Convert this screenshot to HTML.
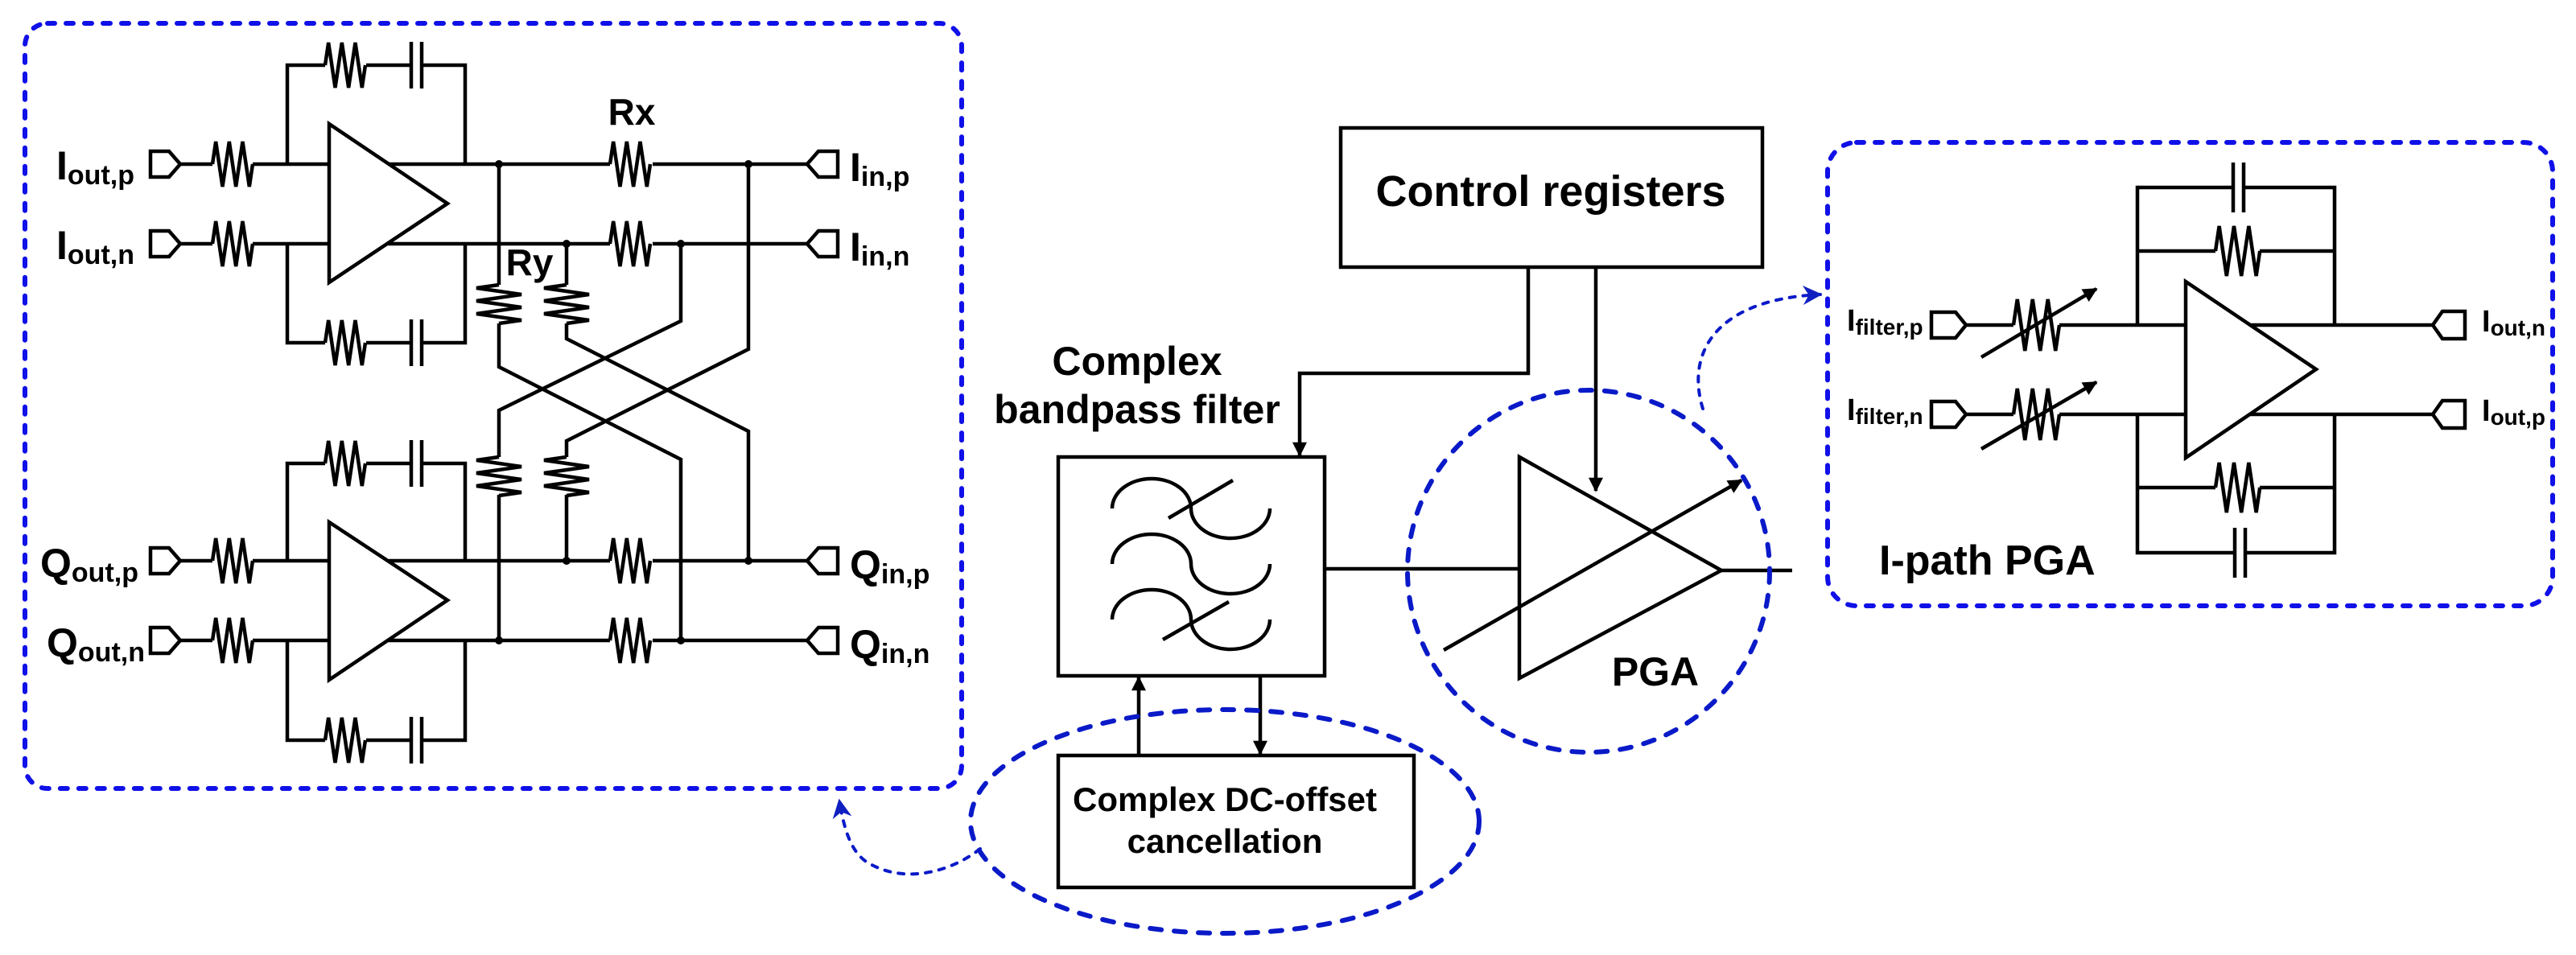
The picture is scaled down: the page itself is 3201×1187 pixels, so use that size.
<!DOCTYPE html>
<html><head><meta charset="utf-8"><style>
html,body{margin:0;padding:0;background:#fff}
svg{display:block}
text{font-family:"Liberation Sans",Arial,sans-serif;font-weight:bold;fill:#000}
</style></head><body>
<svg width="3201" height="1187" viewBox="0 0 3201 1187" xmlns="http://www.w3.org/2000/svg">
<defs>
<path id="rh" d="M0,0 l4.17,-28 l8.33,56 l8.33,-56 l8.33,56 l8.33,-56 l8.33,56 l4.17,-28" fill="none" stroke="#000" stroke-width="4.5" stroke-linejoin="miter"/>
<path id="rv" d="M0,0 l-28,4 l56,8 l-56,8 l56,8 l-56,8 l56,8 l-28,4" fill="none" stroke="#000" stroke-width="4.5"/>
<path id="rh2" d="M0,0 l4.6,-31 l9.2,62 l9.2,-62 l9.2,62 l9.2,-62 l9.2,62 l4.6,-31" fill="none" stroke="#000" stroke-width="4.5"/>
<path id="rvar" d="M0,0 l4.75,-32 l9.5,64 l9.5,-64 l9.5,64 l9.5,-64 l9.5,64 l4.75,-32" fill="none" stroke="#000" stroke-width="4.5"/>
<marker id="ahb" viewBox="0 0 10 10" refX="9" refY="5" markerWidth="24" markerHeight="24" orient="auto" markerUnits="userSpaceOnUse">
<path d="M0,0 L10,5 L0,10 L3,5 z" fill="#1020c0"/></marker>
<marker id="ahk" viewBox="0 0 10 10" refX="9" refY="5" markerWidth="22" markerHeight="18" orient="auto" markerUnits="userSpaceOnUse">
<path d="M0,0 L10,5 L0,10 z" fill="#000"/></marker>
</defs>

<g fill="none" stroke="#000" stroke-width="4.5">
<polygon points="187,188 210,188 224,204 210,220 187,220"/>
<line x1="224" y1="204" x2="264" y2="204"/>
<line x1="314" y1="204" x2="409" y2="204"/>
<polyline points="357,204 357,81 404,81"/>
<polyline points="455,81 511,81"/>
<line x1="511" y1="52" x2="511" y2="110"/><line x1="524" y1="52" x2="524" y2="110"/>
<polyline points="524,81 578,81 578,204"/>
<polygon points="409,154 556,253 409,351"/>
<line x1="483" y1="204" x2="758" y2="204"/>
<line x1="811" y1="204" x2="1003" y2="204"/>
<polygon points="1041,188 1017,188 1003,204 1017,220 1041,220"/>
<polygon points="187,287 210,287 224,303 210,319 187,319"/>
<line x1="224" y1="303" x2="264" y2="303"/>
<line x1="314" y1="303" x2="409" y2="303"/>
<polyline points="357,303 357,426 404,426"/>
<polyline points="455,426 511,426"/>
<line x1="511" y1="397" x2="511" y2="455"/><line x1="524" y1="397" x2="524" y2="455"/>
<polyline points="524,426 578,426 578,303"/>
<line x1="481" y1="303" x2="758" y2="303"/>
<line x1="811" y1="303" x2="1003" y2="303"/>
<polygon points="1041,287 1017,287 1003,303 1017,319 1041,319"/>

<polygon points="187,681 210,681 224,697 210,713 187,713"/>
<line x1="224" y1="697" x2="264" y2="697"/>
<line x1="314" y1="697" x2="409" y2="697"/>
<polyline points="357,697 357,576 404,576"/>
<polyline points="455,576 511,576"/>
<line x1="511" y1="547" x2="511" y2="605"/><line x1="524" y1="547" x2="524" y2="605"/>
<polyline points="524,576 578,576 578,697"/>
<polygon points="409,649 556,746 409,845"/>
<line x1="483" y1="697" x2="758" y2="697"/>
<line x1="811" y1="697" x2="1003" y2="697"/>
<polygon points="1041,681 1017,681 1003,697 1017,713 1041,713"/>
<polygon points="187,780 210,780 224,796 210,812 187,812"/>
<line x1="224" y1="796" x2="264" y2="796"/>
<line x1="314" y1="796" x2="409" y2="796"/>
<polyline points="357,796 357,920 404,920"/>
<polyline points="455,920 511,920"/>
<line x1="511" y1="891" x2="511" y2="949"/><line x1="524" y1="891" x2="524" y2="949"/>
<polyline points="524,920 578,920 578,796"/>
<line x1="481" y1="796" x2="758" y2="796"/>
<line x1="811" y1="796" x2="1003" y2="796"/>
<polygon points="1041,780 1017,780 1003,796 1017,812 1041,812"/>

<polyline points="620,204 620,354"/>
<polyline points="620,402 620,456 846,571 846,796"/>
<polyline points="704,303 704,354"/>
<polyline points="704,402 704,421 930,536 930,697"/>
<polyline points="930,204 930,434 704,548 704,568"/>
<polyline points="704,615 704,697"/>
<polyline points="846,303 846,399 620,510 620,568"/>
<polyline points="620,615 620,796"/>

<rect x="1666" y="159" width="524" height="173"/>
<polyline points="1899,332 1899,464 1615,464 1615,566" marker-end="url(#ahk)"/>
<line x1="1983" y1="332" x2="1983" y2="610" marker-end="url(#ahk)"/>
<rect x="1315" y="568" width="331" height="272"/>
<path d="M1382,632 A49,37 0 0 1 1480,632 A49,37 0 0 0 1578,632"/>
<path d="M1382,701 A49,37 0 0 1 1480,701 A49,37 0 0 0 1578,701"/>
<path d="M1382,770 A49,37 0 0 1 1480,770 A49,37 0 0 0 1578,770"/>
<line x1="1452" y1="644" x2="1532" y2="597"/>
<line x1="1445" y1="795" x2="1527" y2="748"/>
<line x1="1646" y1="707" x2="1888" y2="707"/>
<polygon points="1888,568 2139,709 1888,843"/>
<line x1="2139" y1="709" x2="2227" y2="709"/>
<line x1="1794" y1="808" x2="2164" y2="597" marker-end="url(#ahk)"/>
<line x1="1415" y1="939" x2="1415" y2="842" marker-end="url(#ahk)"/>
<line x1="1566" y1="840" x2="1566" y2="937" marker-end="url(#ahk)"/>
<rect x="1315" y="939" width="442" height="164"/>

<polyline points="2656,404 2656,233 2775,233"/>
<line x1="2775" y1="202" x2="2775" y2="264"/><line x1="2788" y1="202" x2="2788" y2="264"/>
<polyline points="2788,233 2901,233 2901,404"/>
<line x1="2656" y1="312" x2="2753" y2="312"/>
<line x1="2808" y1="312" x2="2901" y2="312"/>
<polygon points="2716,350 2878,459 2716,569"/>
<polygon points="2400,388 2430,388 2443,404 2430,420 2400,420"/>
<line x1="2443" y1="404" x2="2502" y2="404"/>
<line x1="2559" y1="404" x2="2716" y2="404"/>
<line x1="2462" y1="444" x2="2605" y2="359" marker-end="url(#ahk)"/>
<polygon points="2400,499 2430,499 2443,515 2430,531 2400,531"/>
<line x1="2443" y1="515" x2="2502" y2="515"/>
<line x1="2559" y1="515" x2="2716" y2="515"/>
<line x1="2462" y1="558" x2="2605" y2="475" marker-end="url(#ahk)"/>
<line x1="2796" y1="404" x2="3023" y2="404"/>
<polygon points="3063,387 3035,387 3023,404 3035,421 3063,421"/>
<line x1="2796" y1="515" x2="3023" y2="515"/>
<polygon points="3063,498 3035,498 3023,515 3035,532 3063,532"/>
<polyline points="2656,515 2656,687 2777,687"/>
<line x1="2777" y1="656" x2="2777" y2="718"/><line x1="2790" y1="656" x2="2790" y2="718"/>
<polyline points="2790,687 2901,687 2901,515"/>
<line x1="2656" y1="606" x2="2753" y2="606"/>
<line x1="2808" y1="606" x2="2901" y2="606"/>
</g>

<use href="#rh" x="264" y="204"/><use href="#rh" x="264" y="303"/>
<use href="#rh" x="264" y="697"/><use href="#rh" x="264" y="796"/>
<use href="#rh" x="404" y="81"/><use href="#rh" x="404" y="426"/>
<use href="#rh" x="404" y="576"/><use href="#rh" x="404" y="920"/>
<use href="#rh" x="758" y="204"/><use href="#rh" x="758" y="303"/>
<use href="#rh" x="758" y="697"/><use href="#rh" x="758" y="796"/>
<use href="#rv" x="620" y="354"/><use href="#rv" x="704" y="354"/>
<use href="#rv" x="620" y="568"/><use href="#rv" x="704" y="568"/>
<use href="#rh2" x="2753" y="312"/><use href="#rh2" x="2753" y="606"/>
<use href="#rvar" x="2502" y="404"/><use href="#rvar" x="2502" y="515"/>

<g fill="#000">
<circle cx="620" cy="204" r="5"/><circle cx="930" cy="204" r="5"/>
<circle cx="704" cy="303" r="5"/><circle cx="846" cy="303" r="5"/>
<circle cx="704" cy="697" r="5"/><circle cx="930" cy="697" r="5"/>
<circle cx="620" cy="796" r="5"/><circle cx="846" cy="796" r="5"/>
</g>

<g fill="none" stroke="#1010e8" stroke-width="6" stroke-linecap="round" stroke-dasharray="9 14">
<rect x="31" y="29" width="1164" height="951" rx="28"/>
<rect x="2271" y="177" width="901" height="576" rx="36"/>
</g>
<g fill="none" stroke="#0a1ac8" stroke-width="6" stroke-linecap="round" stroke-dasharray="14 16">
<circle cx="1974" cy="710" r="225"/>
<ellipse cx="1522" cy="1021" rx="316" ry="139"/>
</g>
<g fill="none" stroke="#0a1ac8" stroke-width="4" stroke-linecap="round" stroke-dasharray="7 10">
<path d="M1218,1055 C1180,1085 1120,1100 1075,1070 C1055,1055 1048,1025 1043,995" marker-end="url(#ahb)"/>
<path d="M2116,508 C2095,440 2130,372 2262,366" marker-end="url(#ahb)"/>
</g>

<text x="70" y="223" font-size="50">I<tspan font-size="34" dy="6">out,p</tspan></text>
<text x="70" y="322" font-size="50">I<tspan font-size="34" dy="6">out,n</tspan></text>
<text x="50" y="717" font-size="50">Q<tspan font-size="34" dy="6">out,p</tspan></text>
<text x="58" y="816" font-size="50">Q<tspan font-size="34" dy="6">out,n</tspan></text>
<text x="1056" y="225" font-size="50">I<tspan font-size="34" dy="6">in,p</tspan></text>
<text x="1056" y="324" font-size="50">I<tspan font-size="34" dy="6">in,n</tspan></text>
<text x="1056" y="719" font-size="50">Q<tspan font-size="34" dy="6">in,p</tspan></text>
<text x="1056" y="818" font-size="50">Q<tspan font-size="34" dy="6">in,n</tspan></text>
<text x="785" y="155" font-size="46" text-anchor="middle">Rx</text>
<text x="658" y="342" font-size="46" text-anchor="middle">Ry</text>
<text x="1927" y="256" font-size="54" text-anchor="middle">Control registers</text>
<text x="1413" y="466" font-size="50" text-anchor="middle">Complex</text>
<text x="1413" y="526" font-size="50" text-anchor="middle">bandpass filter</text>
<text x="2057" y="852" font-size="50" text-anchor="middle">PGA</text>
<text x="1522" y="1008" font-size="42" text-anchor="middle">Complex DC-offset</text>
<text x="1522" y="1060" font-size="42" text-anchor="middle">cancellation</text>
<text x="2295" y="411" font-size="38">I<tspan font-size="28" dy="5">filter,p</tspan></text>
<text x="2295" y="522" font-size="38">I<tspan font-size="28" dy="5">filter,n</tspan></text>
<text x="3084" y="412" font-size="38">I<tspan font-size="28" dy="5">out,n</tspan></text>
<text x="3084" y="523" font-size="38">I<tspan font-size="28" dy="5">out,p</tspan></text>
<text x="2335" y="714" font-size="52">I-path PGA</text>
</svg>
</body></html>
